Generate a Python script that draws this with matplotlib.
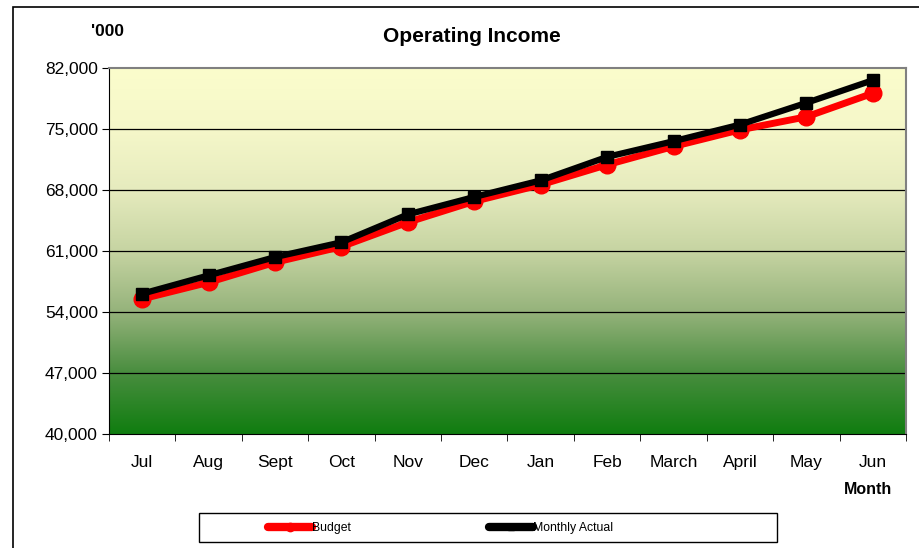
import numpy as np
import matplotlib
matplotlib.use('Agg')
import matplotlib.pyplot as plt
from matplotlib.colors import LinearSegmentedColormap
from matplotlib.patches import Rectangle

plt.rcParams['font.family'] = ['Liberation Sans', 'DejaVu Sans']

# Datos
months = ['Jul', 'Aug', 'Sept', 'Oct', 'Nov', 'Dec', 'Jan', 'Feb',
          'March', 'April', 'May', 'Jun']
budget = [55500, 57400, 59700, 61500, 64300, 66700, 68600, 70900,
          73000, 74900, 76400, 79100]
actual = [56100, 58200, 60300, 62000, 65200, 67200, 69100, 71800,
          73600, 75500, 78000, 80600]
y_ticks = [40000, 47000, 54000, 61000, 68000, 75000, 82000]

fig = plt.figure(figsize=(9.19, 5.48), dpi=100)
ax = fig.add_axes([109 / 919, 1 - 434 / 548, 797 / 919, 366 / 548])

# Fondo con degradado (amarillo claro arriba, verde abajo)
cmap = LinearSegmentedColormap.from_list('bg', [
    (0.0, '#107d10'),
    (0.17, '#4a8e40'),
    (0.33, '#94b27a'),
    (0.5, '#c6d4a2'),
    (0.67, '#e6ebbe'),
    (0.83, '#f5f7c9'),
    (1.0, '#fbfdcc'),
])
grad = np.linspace(1, 0, 256).reshape(-1, 1)
x = np.arange(len(months))
ax.imshow(grad, extent=[-0.5, len(months) - 0.5, y_ticks[0], y_ticks[-1]],
          aspect='auto', cmap=cmap, zorder=0)

for yt in y_ticks[1:-1]:
    ax.axhline(yt, color='black', linewidth=0.9, zorder=1)

ax.plot(x, budget, color='#ff0000', linewidth=5, marker='o', markersize=12,
        label='Budget', zorder=3)
ax.plot(x, actual, color='black', linewidth=4.5, marker='s', markersize=8,
        label='Monthly Actual', zorder=4)

ax.set_xlim(-0.5, len(months) - 0.5)
ax.set_ylim(y_ticks[0], y_ticks[-1])
ax.set_yticks(y_ticks)
ax.set_yticklabels([f'{v:,}' for v in y_ticks], fontsize=12.5)
ax.set_xticks(x)
ax.set_xticklabels(months, fontsize=12.5)
ax.set_xticks(np.arange(-0.5, len(months)), minor=True)
ax.tick_params(axis='x', which='major', length=0, pad=15)
ax.tick_params(axis='x', which='minor', length=5, direction='out')
ax.tick_params(axis='y', length=5, direction='out', pad=3)

ax.spines['top'].set_color('#808080')
ax.spines['right'].set_color('#808080')
ax.spines['top'].set_linewidth(1.5)
ax.spines['right'].set_linewidth(1.5)

fig.text(472 / 919, 1 - 37 / 548, 'Operating Income', ha='center',
         va='center', fontsize=15, fontweight='bold')
fig.text(108 / 919, 1 - 32 / 548, "'000", ha='center', va='center',
         fontsize=12.5, fontweight='bold')
fig.text(868 / 919, 1 - 489 / 548, 'Month', ha='center', va='center',
         fontsize=11.5, fontweight='bold')

# Borde exterior del gráfico
fig.patches.append(Rectangle((13 / 919, -0.1), 1.2, 1 - 7 / 548 + 0.1,
                             transform=fig.transFigure, fill=False,
                             edgecolor='black', linewidth=1.2))

# Caja de la leyenda
fig.patches.append(Rectangle((199 / 919, 1 - 542 / 548), 578 / 919, 29 / 548,
                             transform=fig.transFigure, facecolor='white',
                             edgecolor='black', linewidth=1.0, zorder=1))
leg = fig.legend(loc='center left', ncol=2,
                 bbox_to_anchor=(268 / 919, 1 - 528 / 548),
                 frameon=False, fontsize=8.8, handlelength=3.6,
                 handletextpad=0.0, columnspacing=11.3,
                 markerscale=0.5, borderaxespad=0, borderpad=0)
for line in leg.get_lines():
    line.set_linewidth(6)
    line.set_solid_capstyle('round')
leg.set_zorder(2)

fig.savefig('out.png', dpi=100)
